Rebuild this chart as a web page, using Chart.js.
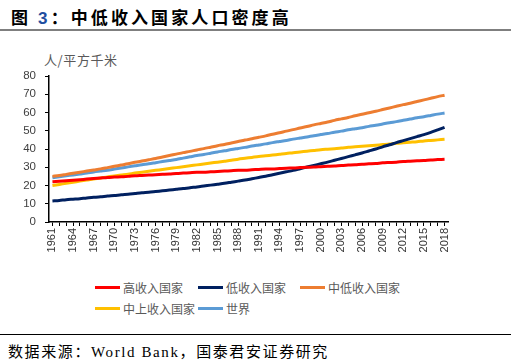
<!DOCTYPE html>
<html>
<head>
<meta charset="utf-8">
<script src="https://cdn.jsdelivr.net/npm/chart.js@4.4.1/dist/chart.umd.min.js"></script>
<style>
    body { margin: 0; background: #fff; width: 518px; height: 361px; position: relative; overflow: hidden; font-family: "Liberation Sans", "Noto Sans CJK SC", sans-serif; }
    #title { position: absolute; left: 11px; top: 4px; font-size: 17px; font-weight: bold; letter-spacing: 3.1px; color: #000; font-family: "Noto Sans CJK SC", sans-serif; white-space: nowrap; }
    #title .num { color: #1f4e9f; font-family: "Liberation Sans", sans-serif; }
    #topline { position: absolute; left: 0; top: 29px; width: 511px; height: 1.5px; background: #7f7f7f; }
    #unit { position: absolute; left: 44px; top: 50px; font-size: 13px; color: #595959; letter-spacing: 0.6px; font-family: "Noto Sans CJK SC", sans-serif; white-space: nowrap; }
    #chart-wrap { position: absolute; left: 0; top: 0; width: 518px; height: 270px; }
    #legend { position: absolute; left: 95px; top: 279px; width: 330px; }
    .leg-item { position: absolute; display: flex; align-items: center; font-size: 12px; color: #595959; font-family: "Noto Sans CJK SC", sans-serif; white-space: nowrap; }
    .leg-line { width: 25px; height: 3px; margin-right: 3px; }
    #bottomline { position: absolute; left: 0; top: 334px; width: 511px; height: 1px; background: #000; }
    #source { position: absolute; left: 8px; top: 340px; font-size: 15px; color: #000; letter-spacing: 1.6px; font-family: "Liberation Serif", "Noto Sans CJK SC", serif; white-space: nowrap; }
</style>
</head>
<body>
<div id="title">图 <span class="num">3</span>：中低收入国家人口密度高</div>
<div id="topline"></div>
<div id="unit">人/平方千米</div>
<div id="chart-wrap"><canvas id="chart"></canvas></div>
<div id="legend"></div>
<div id="bottomline"></div>
<div id="source">数据来源：World Bank，国泰君安证券研究</div>
<script>
    // Years 1961-2018
    const years = [];
    for (let y = 1961; y <= 2018; y++) years.push(String(y));

    const seriesNames = ['高收入国家', '低收入国家', '中低收入国家', '中上收入国家', '世界'];

    // 人/平方千米
    const highIncome = [
        22.0, 22.3, 22.6, 22.9, 23.2, 23.5, 23.8, 24.1, 24.4, 24.6,
        24.8, 25.0, 25.3, 25.5, 25.7, 25.9, 26.1, 26.3, 26.6, 26.8,
        27.0, 27.2, 27.3, 27.5, 27.7, 27.9, 28.1, 28.3, 28.4, 28.6,
        28.8, 29.0, 29.1, 29.3, 29.5, 29.6, 29.8, 30.0, 30.1, 30.3,
        30.5, 30.7, 31.0, 31.2, 31.4, 31.7, 31.9, 32.1, 32.4, 32.6,
        32.8, 33.1, 33.3, 33.5, 33.7, 34.0, 34.2, 34.4
    ];
    const lowIncome = [
        11.5, 11.8, 12.2, 12.5, 12.8, 13.2, 13.5, 13.8, 14.2, 14.5,
        14.9, 15.2, 15.6, 16.0, 16.3, 16.7, 17.1, 17.5, 17.9, 18.3,
        18.8, 19.2, 19.7, 20.2, 20.7, 21.2, 21.8, 22.4, 23.0, 23.7,
        24.4, 25.1, 25.9, 26.7, 27.5, 28.3, 29.2, 30.1, 31.0, 31.9,
        32.8, 33.8, 34.8, 35.8, 36.8, 37.8, 38.9, 40.0, 41.2, 42.3,
        43.5, 44.6, 45.7, 46.8, 47.9, 49.1, 50.5, 51.9
    ];
    const lowerMiddle = [
        25.0, 25.5, 26.1, 26.7, 27.3, 27.9, 28.5, 29.1, 29.8, 30.5,
        31.2, 31.9, 32.7, 33.4, 34.1, 34.8, 35.6, 36.4, 37.2, 38.0,
        38.7, 39.5, 40.2, 41.0, 41.8, 42.5, 43.3, 44.1, 44.9, 45.6,
        46.4, 47.2, 48.1, 48.9, 49.8, 50.6, 51.5, 52.3, 53.2, 54.0,
        54.8, 55.7, 56.5, 57.3, 58.2, 59.0, 59.9, 60.7, 61.6, 62.5,
        63.4, 64.3, 65.1, 66.0, 66.9, 67.8, 68.7, 69.5
    ];
    const upperMiddle = [
        20.0, 20.6, 21.2, 21.8, 22.4, 23.0, 23.6, 24.1, 24.7, 25.2,
        25.7, 26.2, 26.8, 27.3, 27.8, 28.3, 28.8, 29.3, 29.8, 30.3,
        30.8, 31.3, 31.8, 32.3, 32.8, 33.3, 33.8, 34.4, 34.9, 35.4,
        35.9, 36.3, 36.7, 37.1, 37.5, 38.0, 38.4, 38.8, 39.2, 39.6,
        39.9, 40.2, 40.5, 40.9, 41.2, 41.5, 41.8, 42.1, 42.4, 42.7,
        43.1, 43.4, 43.7, 44.0, 44.4, 44.7, 45.0, 45.3
    ];
    const world = [
        24.3, 24.8, 25.3, 25.8, 26.3, 26.8, 27.4, 27.9, 28.4, 29.0,
        29.6, 30.2, 30.8, 31.4, 31.9, 32.5, 33.1, 33.7, 34.3, 35.0,
        35.7, 36.4, 37.0, 37.7, 38.4, 39.0, 39.7, 40.3, 40.9, 41.6,
        42.2, 42.8, 43.5, 44.1, 44.7, 45.4, 46.0, 46.6, 47.3, 47.9,
        48.5, 49.2, 49.8, 50.5, 51.1, 51.7, 52.4, 53.0, 53.7, 54.4,
        55.0, 55.7, 56.4, 57.1, 57.7, 58.4, 59.1, 59.7
    ];

    const colors = ['#ff0000', '#002060', '#ed7d31', '#ffc000', '#5b9bd5'];
    const allSeries = [highIncome, lowIncome, lowerMiddle, upperMiddle, world];

    const datasets = allSeries.map((data, i) => ({
        label: seriesNames[i],
        data: data,
        borderColor: colors[i],
        backgroundColor: colors[i],
        borderWidth: 3,
        pointRadius: 0,
        tension: 0.3,
        fill: false
    }));

    new Chart(document.getElementById('chart'), {
        type: 'line',
        data: { labels: years, datasets },
        options: {
            responsive: true,
            maintainAspectRatio: false,
            animation: false,
            layout: { padding: { top: 76, right: 70, left: 0, bottom: 0 } },
            plugins: {
                legend: { display: false },
                tooltip: { enabled: false }
            },
            scales: {
                x: {
                    offset: true,
                    grid: { display: true, drawOnChartArea: false, drawTicks: true, tickLength: 4, color: '#000', lineWidth: 1 },
                    border: { display: true, color: '#000', width: 1.5 },
                    ticks: {
                        autoSkip: false,
                        maxRotation: 90,
                        minRotation: 90,
                        padding: 2,
                        color: '#333',
                        font: { family: 'Liberation Sans', size: 11 },
                        callback: function (val, idx) {
                            return idx % 3 === 0 ? years[idx] : '';
                        }
                    },
                    afterFit: scale => { scale.height = 48; }
                },
                y: {
                    min: 0,
                    max: 80,
                    grid: { display: true, drawOnChartArea: false, drawTicks: true, tickLength: 4, color: '#000', lineWidth: 1 },
                    border: { display: true, color: '#000', width: 1.5 },
                    ticks: { stepSize: 10, padding: 9, color: '#404040', font: { family: 'Liberation Sans', size: 11.5 } },
                    afterFit: scale => { scale.width = 49; }
                }
            }
        }
    });

    // Legend built from the series
    const legend = document.getElementById('legend');
    const legendPos = [[0, 0], [103, 0], [205, 0], [0, 21], [103, 21]];
    seriesNames.forEach((name, i) => {
        const item = document.createElement('div');
        item.className = 'leg-item';
        item.style.left = legendPos[i][0] + 'px';
        item.style.top = legendPos[i][1] + 'px';
        item.innerHTML = `<span class="leg-line" style="background:${colors[i]}"></span><span>${name}</span>`;
        legend.appendChild(item);
    });
</script>
</body>
</html>
